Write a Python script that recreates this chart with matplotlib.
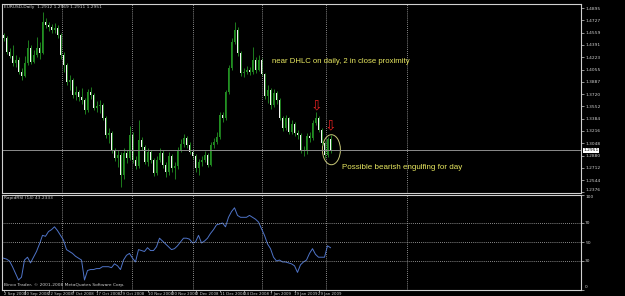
import numpy as np
import matplotlib.pyplot as plt
from matplotlib.patches import Ellipse

# EURUSD daily, Sep 2008 - early Feb 2009
first_open = 1.4526
closes = [1.4485, 1.4294, 1.4240, 1.4144, 1.4185, 1.4021, 1.3967, 1.4144, 1.4349, 1.4158,
          1.4253, 1.4349, 1.4281, 1.4704, 1.4663, 1.4636, 1.4595, 1.4622, 1.4526, 1.4253,
          1.4117, 1.3885, 1.3912, 1.3707, 1.3748, 1.3680, 1.3639, 1.3502, 1.3748, 1.3707,
          1.3530, 1.3557, 1.3571, 1.3393, 1.3161, 1.3188, 1.2956, 1.2847, 1.2888, 1.2615,
          1.2915, 1.2847, 1.3161, 1.2820, 1.2738, 1.3093, 1.2997, 1.2792, 1.2929, 1.2820,
          1.2642, 1.2820, 1.2915, 1.2752, 1.2656, 1.2874, 1.2711, 1.2740, 1.2956, 1.3038,
          1.3120, 1.3025, 1.2929, 1.2874, 1.2711, 1.2792, 1.2820, 1.2888, 1.2752, 1.3025,
          1.3066, 1.3134, 1.3434, 1.3393, 1.3748, 1.4076, 1.4431, 1.4595, 1.4281, 1.4008,
          1.4021, 1.4049, 1.4021, 1.4185, 1.4049, 1.4185, 1.3994, 1.3694, 1.3775, 1.3571,
          1.3734, 1.3639, 1.3393, 1.3257, 1.3393, 1.3202, 1.3311, 1.3188, 1.3161, 1.2956,
          1.2940, 1.3147, 1.3120, 1.3325, 1.3393, 1.3229, 1.3052, 1.2888, 1.3110, 1.2951]
highs = [1.4560, 1.4510, 1.4350, 1.4390, 1.4250, 1.4220, 1.4075, 1.4240, 1.4458, 1.4385,
         1.4320, 1.4500, 1.4430, 1.4840, 1.4760, 1.4700, 1.4680, 1.4690, 1.4660, 1.4560,
         1.4290, 1.4150, 1.3985, 1.3940, 1.3830, 1.3780, 1.3800, 1.3660, 1.3790, 1.3810,
         1.3740, 1.3620, 1.3640, 1.3600, 1.3420, 1.3260, 1.3220, 1.2990, 1.2960, 1.2930,
         1.2990, 1.2960, 1.3290, 1.3200, 1.2870, 1.3366, 1.3130, 1.3030, 1.2990, 1.2960,
         1.2850, 1.2870, 1.2980, 1.2950, 1.2790, 1.2930, 1.2900, 1.2790, 1.3000, 1.3100,
         1.3180, 1.3150, 1.3060, 1.2960, 1.2900, 1.2830, 1.2870, 1.2940, 1.2910, 1.3060,
         1.3120, 1.3200, 1.3480, 1.3470, 1.3780, 1.4120, 1.4480, 1.4704, 1.4640, 1.4310,
         1.4080, 1.4110, 1.4090, 1.4362, 1.4230, 1.4250, 1.4210, 1.4010, 1.3850, 1.3800,
         1.3790, 1.3760, 1.3670, 1.3420, 1.3430, 1.3410, 1.3360, 1.3340, 1.3230, 1.3190,
         1.3010, 1.3190, 1.3200, 1.3370, 1.3470, 1.3420, 1.3260, 1.3080, 1.3140, 1.3160]
lows = [1.4440, 1.4265, 1.4212, 1.4100, 1.4090, 1.3990, 1.3912, 1.3950, 1.4120, 1.4130,
        1.4140, 1.4225, 1.4200, 1.4270, 1.4620, 1.4580, 1.4560, 1.4560, 1.4480, 1.4200,
        1.4020, 1.3850, 1.3770, 1.3670, 1.3640, 1.3620, 1.3580, 1.3450, 1.3470, 1.3650,
        1.3500, 1.3480, 1.3460, 1.3360, 1.3120, 1.3050, 1.2920, 1.2800, 1.2720, 1.2451,
        1.2560, 1.2780, 1.2820, 1.2780, 1.2690, 1.2710, 1.2950, 1.2760, 1.2740, 1.2780,
        1.2600, 1.2610, 1.2790, 1.2710, 1.2590, 1.2620, 1.2650, 1.2560, 1.2700, 1.2930,
        1.3000, 1.2990, 1.2900, 1.2830, 1.2660, 1.2620, 1.2740, 1.2790, 1.2720, 1.2740,
        1.2990, 1.3040, 1.3110, 1.3340, 1.3370, 1.3720, 1.4050, 1.4400, 1.4240, 1.3960,
        1.3950, 1.3990, 1.3980, 1.4000, 1.4010, 1.4030, 1.3960, 1.3650, 1.3600, 1.3520,
        1.3540, 1.3590, 1.3360, 1.3210, 1.3230, 1.3170, 1.3180, 1.3150, 1.3110, 1.2920,
        1.2880, 1.2900, 1.3060, 1.3090, 1.3300, 1.3200, 1.3020, 1.2850, 1.2860, 1.2910]

rsi = [33, 32, 30, 24, 17, 10, 13, 31, 34, 28, 34, 40, 48, 57, 56, 61, 63, 66, 62, 57,
       52, 42, 40, 38, 35, 33, 31, 10, 20, 21, 21, 22, 22, 24, 24, 24, 23, 27, 25, 21,
       31, 36, 38, 33, 29, 42, 41, 40, 44, 41, 41, 45, 54, 51, 48, 45, 42, 43, 46, 50,
       54, 54, 53, 49, 50, 57, 49, 51, 54, 59, 63, 68, 69, 70, 66, 76, 82, 86, 78, 76,
       76, 76, 78, 76, 74, 71, 64, 57, 48, 43, 34, 30, 31, 29, 29, 28, 27, 25, 18, 26,
       29, 31, 38, 43, 37, 34, 34, 34, 46, 44]

price_ticks = [1.4895, 1.4727, 1.4559, 1.4391, 1.4223, 1.4055, 1.3887, 1.3720,
               1.3552, 1.3384, 1.3216, 1.3048, 1.2880, 1.2712, 1.2544, 1.2376]
last_price = 1.2951
rsi_levels = [30, 50, 70]
rsi_ticks = [0, 30, 50, 70, 100]

date_bars = [0, 7, 15, 23, 31, 39, 48, 56, 64, 72, 80, 89, 97, 105]
date_labels = ['2 Sep 2008', '10 Sep 2008', '22 Sep 2008', '7 Oct 2008', '17 Oct 2008',
               '29 Oct 2008', '10 Nov 2008', '20 Nov 2008', '2 Dec 2008', '11 Dec 2008',
               '24 Dec 2008', '7 Jan 2009', '19 Jan 2009', '29 Jan 2009']
grid_bars = [19.5, 42.8, 63.2, 86.2, 107.5, 134.5]

fg = '#d0d0d0'
green = '#229022'
yellow = '#e8e860'
small = 3.2

fig = plt.figure(figsize=(6.25, 2.96), dpi=100, facecolor='black')
ax = fig.add_axes([2/625, 1 - 193/296, 579/625, 189/296], facecolor='black')
ax2 = fig.add_axes([2/625, 1 - 289.5/296, 579/625, 95/296], facecolor='black')

# candles
c = np.array(closes)
o = np.array([first_open] + closes[:-1])
o[-1] = 1.3110
x = np.arange(len(c))
up = c >= o
ax.vlines(x, lows, highs, color=green, lw=0.6)
body = np.maximum(np.abs(c - o), 0.0007)
ax.bar(x[up], body[up], bottom=o[up], width=0.5, color=green, lw=0)
ax.bar(x[~up], body[~up], bottom=c[~up], width=0.5, color='#f4f4f4', lw=0)

ax.axhline(last_price, color='#8c8c8c', lw=0.7)
for a in (ax, ax2):
    for g in grid_bars:
        a.axvline(g, color='#b8b8b8', lw=0.6, ls=(0, (1, 1.5)))
    a.set_xlim(-0.5, 192.5)
    for s in a.spines.values():
        s.set_color(fg)
        s.set_linewidth(0.8)

ax.set_ylim(1.2369, 1.4950)
ax.yaxis.tick_right()
ax.set_yticks(price_ticks)
ax.set_yticklabels(['%.4f' % v for v in price_ticks])
ax.tick_params(axis='y', colors=fg, labelsize=small, length=2, width=0.5, pad=1)
ax.get_yticklabels()[-1].set_va('bottom')
ax.set_xticks([])
ax.text(1.004, last_price, '%.4f' % last_price, transform=ax.get_yaxis_transform(),
        ha='left', va='center', fontsize=small, color='black',
        bbox=dict(fc='white', ec='none', pad=0.4))
ax.text(0.004, 0.995, 'EURUSD,Daily  1.2912 1.2969 1.2911 1.2951', transform=ax.transAxes,
        ha='left', va='top', fontsize=small, color=fg)

# annotations
ax.text(89.5, 1.4158, 'near DHLC on daily, 2 in close proximity', color=yellow,
        fontsize=5.6, family='Liberation Sans', ha='left', va='center')
ax.text(112.8, 1.2724, 'Possible bearish engulfing for day', color=yellow,
        fontsize=5.8, family='Liberation Sans', ha='left', va='center')
ax.text(104.3, 1.3470, '\u21e9', color='#e02020', fontsize=10, ha='center', va='bottom')
ax.text(109.0, 1.3190, '\u21e9', color='#e02020', fontsize=10, ha='center', va='bottom')
ax.add_patch(Ellipse((109.3, 1.2960), 6, 0.041, fill=False, ec='#c8c878', lw=0.7))

# RSI panel
ax2.plot(x, rsi, color='#4f74c8', lw=0.7)
for lv in rsi_levels:
    ax2.axhline(lv, color='#b8b8b8', lw=0.6, ls=(0, (1, 1.5)))
ax2.set_ylim(0, 100)
ax2.yaxis.tick_right()
ax2.set_yticks(rsi_ticks)
ax2.set_yticklabels([str(v) for v in rsi_ticks])
ax2.tick_params(axis='y', colors=fg, labelsize=small, length=2, width=0.5, pad=1)
ax2.get_yticklabels()[-1].set_va('top')
ax2.get_yticklabels()[0].set_va('bottom')
ax2.set_xticks(date_bars)
ax2.set_xticklabels(date_labels, ha='left')
ax2.tick_params(axis='x', colors=fg, labelsize=2.8, length=1.5, width=0.5, pad=0.5)
ax2.text(0.004, 0.985, 'RapidRSI (14) 43.2333', transform=ax2.transAxes,
         ha='left', va='top', fontsize=small, color=fg)
ax2.text(0.004, 0.03, 'Binco Trader, \u00a9 2001-2008 MetaQuotes Software Corp.',
         transform=ax2.transAxes, ha='left', va='bottom', fontsize=small, color=fg)

fig.savefig('out.png', dpi=100, facecolor='black')
